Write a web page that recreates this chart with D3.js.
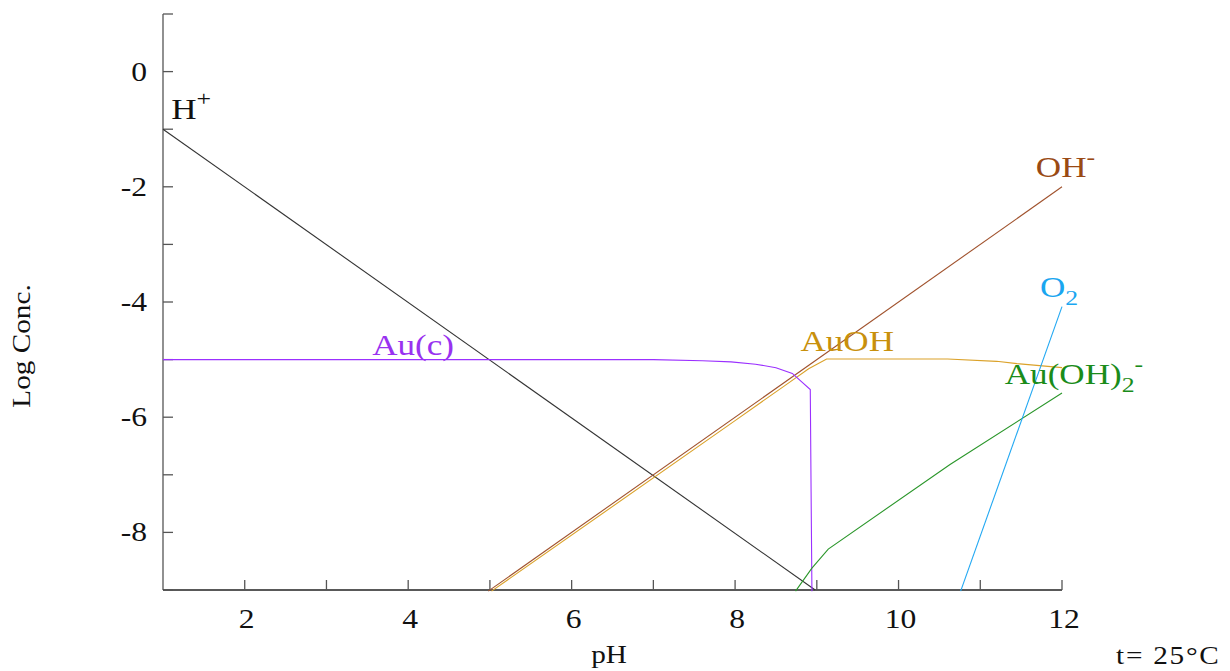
<!DOCTYPE html>
<html>
<head>
<meta charset="utf-8">
<script src="https://cdn.jsdelivr.net/npm/d3@7"></script>
<style>
  html, body { margin: 0; padding: 0; background: #fff; }
  svg text { font-family: "Liberation Serif", "DejaVu Serif", serif; }
</style>
</head>
<body>
<div id="chart"></div>
<script>
// species curves, [pH, log conc]
const hPlus = [[1, -1], [8.98, -9.0]];
const ohMinus = [[4.98, -9.02], [12, -2]];
const auOH = [[5.02, -9.02], [8.0, -6.06], [8.6, -5.46], [8.9, -5.16], [9.12, -4.99],
  [10.6, -4.99], [11.2, -5.03], [11.45, -5.07], [12, -5.14]];
const auC = [[1, -5.0], [7.0, -5.0], [7.6, -5.02], [7.95, -5.04], [8.25, -5.08], [8.5, -5.14],
  [8.7, -5.24], [8.92, -5.52], [8.93, -7.3], [8.94, -9.02]];
const auOH2 = [[8.74, -9.02], [8.94, -8.62], [9.14, -8.29], [10.63, -6.82], [12, -5.58]];
const o2 = [[10.76, -9.02], [12, -4.08]];

const xTicks = d3.range(1, 13);
const yTicks = d3.range(-9, 2);
const xLabels = [2, 4, 6, 8, 10, 12];
const yLabels = [0, -2, -4, -6, -8];

const width = 1230, height = 671;
const x = d3.scaleLinear().domain([1, 12]).range([163, 1062]);
const y = d3.scaleLinear().domain([-9, 1]).range([590, 14]);

const svg = d3.select('#chart').append('svg')
  .attr('width', width)
  .attr('height', height);

const stretch = 1.17;

// axes, ticks point inward
svg.append('line').attr('x1', x(1)).attr('x2', x(1)).attr('y1', y(1)).attr('y2', y(-9))
  .attr('stroke', '#555').attr('stroke-width', 1.3);
svg.append('line').attr('x1', x(1)).attr('x2', x(12)).attr('y1', y(-9)).attr('y2', y(-9))
  .attr('stroke', '#222').attr('stroke-width', 1.3);

svg.selectAll('line.xt').data(xTicks.slice(1)).join('line')
  .attr('class', 'xt')
  .attr('x1', d => x(d)).attr('x2', d => x(d))
  .attr('y1', y(-9)).attr('y2', y(-9) - 10)
  .attr('stroke', '#555').attr('stroke-width', 1.3);

svg.selectAll('line.yt').data(yTicks).join('line')
  .attr('class', 'yt')
  .attr('x1', x(1)).attr('x2', x(1) + 10)
  .attr('y1', d => y(d)).attr('y2', d => y(d))
  .attr('stroke', '#555').attr('stroke-width', 1.3);

svg.selectAll('text.xl').data(xLabels).join('text')
  .attr('class', 'xl')
  .attr('transform', d => `translate(${x(d) + 2},628) scale(${stretch},1)`)
  .attr('text-anchor', 'middle')
  .attr('font-size', '27px')
  .attr('fill', '#111')
  .text(d => d);

svg.selectAll('text.yl').data(yLabels).join('text')
  .attr('class', 'yl')
  .attr('transform', d => `translate(147,${y(d) + 9}) scale(${stretch},1)`)
  .attr('text-anchor', 'end')
  .attr('font-size', '27px')
  .attr('fill', '#111')
  .text(d => d);

// axis titles
svg.append('text')
  .attr('transform', `translate(609,663) scale(${stretch},1)`)
  .attr('text-anchor', 'middle')
  .attr('font-size', '25px')
  .attr('fill', '#111')
  .text('pH');

svg.append('text')
  .attr('transform', `translate(30,346) rotate(-90) scale(${stretch},1)`)
  .attr('text-anchor', 'middle')
  .attr('font-size', '25px')
  .attr('fill', '#111')
  .text('Log Conc.');

svg.append('text')
  .attr('transform', `translate(1116,664) scale(${stretch},1)`)
  .attr('font-size', '25px')
  .attr('letter-spacing', '1.5px')
  .attr('fill', '#111')
  .text('t= 25°C');

// curves
const line = d3.line().x(d => x(d[0])).y(d => y(d[1]));
const series = [
  { pts: hPlus, color: '#333333' },
  { pts: ohMinus, color: '#a0522d' },
  { pts: auOH, color: '#dba22a' },
  { pts: auC, color: '#9b30ff' },
  { pts: auOH2, color: '#2a962a' },
  { pts: o2, color: '#22a8f2' }
];
svg.selectAll('path.curve').data(series).join('path')
  .attr('class', 'curve')
  .attr('d', d => line(d.pts))
  .attr('fill', 'none')
  .attr('stroke', d => d.color)
  .attr('stroke-width', 1.1);

// species labels: parts are [text, kind]
const labels = [
  { parts: [['H', ''], ['+', 'sup']], px: 1.1, lv: -0.82, color: '#111' },
  { parts: [['Au(c)', '']], px: 3.56, lv: -4.92, color: '#9932f0' },
  { parts: [['AuOH', '']], px: 8.8, lv: -4.85, color: '#c8900c' },
  { parts: [['OH', ''], ['-', 'sup']], px: 11.68, lv: -1.83, color: '#9a4a14' },
  { parts: [['O', ''], ['2', 'sub']], px: 11.73, lv: -3.91, color: '#1aa6f0' },
  { parts: [['Au(OH)', ''], ['2', 'sub'], ['-', 'sup']], px: 11.3, lv: -5.42, color: '#1a8c1a' }
];

labels.forEach(l => {
  const t = svg.append('text')
    .attr('transform', `translate(${x(l.px)},${y(l.lv)}) scale(${stretch},1)`)
    .attr('font-size', '30px')
    .attr('fill', l.color);
  let shift = 0;
  l.parts.forEach(([s, kind]) => {
    const target = kind === 'sub' ? 8 : kind === 'sup' ? -13 : 0;
    t.append('tspan')
      .attr('dy', target - shift)
      .attr('font-size', kind ? '22px' : '30px')
      .text(s);
    shift = target;
  });
});
</script>
</body>
</html>
